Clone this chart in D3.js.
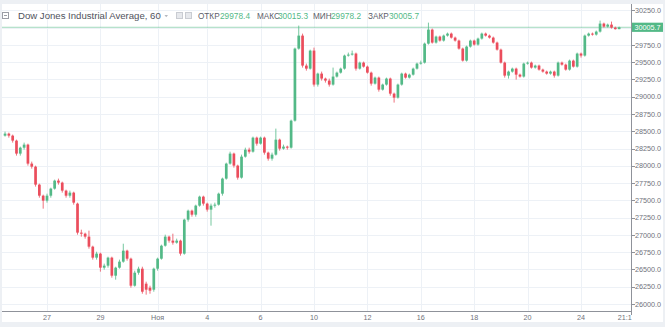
<!DOCTYPE html>
<html><head><meta charset="utf-8">
<script src="https://cdn.jsdelivr.net/npm/d3@7"></script>
<style>html,body{margin:0;padding:0;background:#edf0f4;overflow:hidden}svg{display:block}</style>
</head><body><svg id="c" width="665" height="327"></svg>
<script>
const title = "Dow Jones Industrial Average, 60";
const legendLabels = ["ОТКР", "МАКС", "МИН", "ЗАКР"];
const legendValues = ["29978.4", "30015.3", "29978.2", "30005.7"];
const lastPrice = 30005.7;

const opens = [
28437,28466,28437,28365,28177,28263,28307,28032,27988,27728,
27568,27496,27568,27670,27786,27757,27641,27568,27612,27453,
27033,27018,26975,26830,26671,26729,26526,26555,26671,26410,
26526,26613,26772,26656,26265,26453,26511,26294,26236,26207,
26511,26656,26844,26975,26917,26888,26917,26729,27221,27351,
27293,27424,27554,27453,27366,27424,27438,27597,27815,28032,
28177,28003,27829,28133,28234,28205,28408,28321,28408,28191,
28104,28162,28379,28249,28278,28263,28654,29697,29885,29451,
29407,29668,29176,29335,29263,29234,29176,29292,29349,29407,
29596,29610,29625,29407,29494,29436,29349,29190,29277,29103,
29176,29263,29045,28987,29176,29335,29277,29320,29407,29480,
29494,29769,29972,29784,29871,29813,29885,29914,29856,29813,
29697,29523,29726,29813,29755,29842,29914,29885,29856,29784,
29682,29494,29306,29364,29407,29320,29292,29480,29494,29422,
29451,29393,29364,29335,29364,29306,29494,29465,29393,29523,
29436,29625,29596,29885,29914,29900,29943,30059,30015,30044,
30001,29978.4];
const highs = [
28495,28481,28452,28379,28278,28336,28321,28061,28003,27742,
27583,27597,27684,27800,27815,27771,27655,27641,27626,27467,
27076,27033,27062,26844,26757,26743,26584,26685,26685,26540,
26642,26873,26786,26671,26482,26540,26540,26323,26265,26526,
26671,26859,27004,26989,27018,26946,26931,27235,27366,27366,
27438,27568,27568,27467,27453,27467,27612,27829,28046,28205,
28191,28017,28162,28263,28263,28423,28423,28423,28423,28205,
28191,28539,28394,28307,28292,28669,29711,30030,29914,29480,
29682,29711,29349,29364,29277,29263,29422,29364,29422,29610,
29639,29668,29639,29509,29509,29451,29364,29292,29292,29190,
29277,29277,29060,29190,29349,29349,29335,29422,29494,29523,
29784,30073,29987,29885,29885,29900,29929,29929,29871,29827,
29711,29740,29827,29827,29856,29929,29929,29900,29871,29798,
29697,29509,29378,29422,29422,29335,29494,29509,29509,29465,
29465,29407,29378,29378,29378,29509,29509,29480,29538,29538,
29639,29639,29900,29929,29929,29958,30102,30073,30059,30088,
30015,30015.3];
const lows = [
28423,28408,28336,28148,28148,28234,28003,27959,27699,27539,
27380,27467,27539,27655,27728,27612,27539,27539,27438,27004,
26975,26946,26801,26642,26642,26468,26497,26526,26381,26352,
26511,26598,26627,26236,26251,26424,26149,26135,26149,26178,
26482,26642,26830,26888,26859,26873,26700,26714,27192,27264,
27264,27409,27424,27337,27134,27395,27424,27568,27800,28017,
27974,27800,27815,28119,28177,28191,28292,28307,28162,28075,
28075,28148,28220,28234,28234,28249,28640,29682,29422,29378,
29393,29147,29147,29234,29205,29147,29161,29277,29335,29393,
29581,29596,29378,29393,29422,29335,29161,29176,29074,29089,
29161,29016,28915,28973,29161,29263,29263,29306,29393,29465,
29480,29755,29769,29769,29798,29798,29871,29842,29798,29682,
29509,29509,29711,29740,29740,29827,29871,29842,29769,29668,
29480,29277,29263,29349,29248,29277,29277,29465,29407,29407,
29378,29349,29320,29320,29277,29292,29451,29378,29378,29422,
29422,29567,29581,29871,29885,29885,29929,30001,30001,29987,
29972,29978.2];
const closes = [
28466,28437,28365,28177,28263,28307,28032,27988,27728,27568,
27496,27568,27670,27786,27757,27641,27568,27612,27467,27033,
27018,26975,26830,26671,26729,26526,26555,26671,26410,26526,
26613,26772,26656,26265,26453,26511,26178,26207,26193,26511,
26656,26844,26975,26917,26888,26917,26729,27221,27351,27293,
27424,27554,27453,27366,27424,27438,27597,27815,28032,28177,
28003,27829,28133,28234,28205,28408,28321,28408,28191,28104,
28162,28379,28249,28278,28263,28654,29697,29885,29451,29407,
29668,29176,29335,29263,29234,29176,29292,29349,29407,29596,
29610,29625,29407,29494,29436,29349,29190,29277,29103,29176,
29263,29045,28987,29176,29335,29277,29320,29407,29480,29494,
29769,29972,29784,29871,29813,29885,29914,29856,29813,29697,
29523,29726,29813,29755,29842,29914,29885,29856,29784,29682,
29494,29306,29364,29407,29320,29292,29480,29494,29422,29451,
29393,29364,29335,29364,29306,29494,29465,29393,29523,29436,
29625,29596,29885,29914,29900,29943,30059,30015,30044,30001,
29978.4,30005.7];

const xTickLabels = ["27", "29", "Ноя", "4", "6", "10", "12", "16", "18", "20", "24"];
const xTickBars   = [11, 25, 40, 53, 67, 81, 95, 109, 123, 137, 151];
const xEdgeLabel = "21:1";
const xEdgeBar = 162.5;
const yTickValues = [26000,26250,26500,26750,27000,27250,27500,27750,28000,28250,28500,28750,29000,29250,29500,29750,30000,30250];

const UP = "#53b987", DOWN = "#eb4d5c";
const svg = d3.select("#c");
const L = 2, R = 631, T = 4, B = 311;

svg.append("rect").attr("x", 0).attr("y", 0).attr("width", 665).attr("height", 327).attr("fill", "#edf0f4");
svg.append("rect").attr("x", 2).attr("y", 4).attr("width", 661).attr("height", 318).attr("fill", "#ffffff");

const x = d3.scaleLinear().domain([11, 151]).range([47, 581]);
const y = d3.scaleLinear().domain([26000, 30250]).range([304, 10.4]);

// grid
const grid = svg.append("g").attr("stroke", "#edf1f6").attr("stroke-width", 1);
yTickValues.forEach(v => {
  const yy = Math.round(y(v)) + 0.5;
  grid.append("line").attr("x1", L).attr("x2", R).attr("y1", yy).attr("y2", yy);
});
xTickBars.forEach(b => {
  const xx = Math.round(x(b)) + 0.5;
  grid.append("line").attr("x1", xx).attr("x2", xx).attr("y1", T).attr("y2", B);
});

svg.append("clipPath").attr("id", "plot").append("rect").attr("x", L).attr("y", T).attr("width", R - L).attr("height", B - T);

// price line
const py = y(lastPrice);
svg.append("line").attr("x1", L).attr("x2", R).attr("y1", py).attr("y2", py)
  .attr("stroke", UP).attr("stroke-opacity", 0.55).attr("stroke-width", 1);

// candles
const data = closes.map((c, k) => ({k, o: opens[k], h: highs[k], l: lows[k], c}));
const cg = svg.append("g").attr("clip-path", "url(#plot)");
const bw = 2.7;
cg.selectAll("line.w").data(data).join("line").attr("class", "w")
  .attr("x1", d => x(d.k)).attr("x2", d => x(d.k))
  .attr("y1", d => y(d.h)).attr("y2", d => y(d.l))
  .attr("stroke", d => d.c >= d.o ? UP : DOWN).attr("stroke-width", 0.8);
cg.selectAll("rect.b").data(data).join("rect").attr("class", "b")
  .attr("x", d => x(d.k) - bw / 2).attr("width", bw)
  .attr("y", d => y(Math.max(d.o, d.c)))
  .attr("height", d => Math.max(1, Math.abs(y(d.o) - y(d.c))))
  .attr("fill", d => d.c >= d.o ? UP : DOWN);

// axes
const axisCol = "#8f929a";
svg.append("line").attr("x1", R + 0.5).attr("x2", R + 0.5).attr("y1", T).attr("y2", 315).attr("stroke", axisCol);
svg.append("line").attr("x1", L).attr("x2", R + 1).attr("y1", B + 0.5).attr("y2", B + 0.5).attr("stroke", axisCol);

const labCol = "#6f727b";
const fmt = d3.format(".1f");
yTickValues.forEach(v => {
  const yy = y(v);
  if (Math.abs(yy - py) < 8) return;
  svg.append("line").attr("x1", R + 1).attr("x2", R + 4).attr("y1", Math.round(yy) + 0.5).attr("y2", Math.round(yy) + 0.5).attr("stroke", axisCol);
  svg.append("text").attr("x", 635).attr("y", yy + 2.6).attr("font-family", "Liberation Sans, Arial, sans-serif")
    .attr("font-size", 7.2).attr("fill", labCol).text(fmt(v));
});
// price label
svg.append("rect").attr("x", R + 1).attr("y", py - 4.6).attr("width", 31).attr("height", 9.2).attr("fill", UP);
svg.append("text").attr("x", 634.5).attr("y", py + 2.6).attr("font-family", "Liberation Sans, Arial, sans-serif")
  .attr("font-size", 7.2).attr("fill", "#ffffff").text(fmt(lastPrice));

xTickBars.forEach((b, i) => {
  svg.append("text").attr("x", x(b)).attr("y", 320).attr("text-anchor", "middle")
    .attr("font-family", "Liberation Sans, Arial, sans-serif").attr("font-size", 7.2).attr("fill", labCol).text(xTickLabels[i]);
});
svg.append("text").attr("x", x(xEdgeBar)).attr("y", 320).attr("text-anchor", "middle")
  .attr("font-family", "Liberation Sans, Arial, sans-serif").attr("font-size", 7.2).attr("fill", labCol).text(xEdgeLabel);

// header
const hg = svg.append("g");
hg.append("rect").attr("x", 2.5).attr("y", 12.5).attr("width", 6).attr("height", 6).attr("fill", "none").attr("stroke", "#9a9da5");
hg.append("line").attr("x1", 4).attr("x2", 7).attr("y1", 15.5).attr("y2", 15.5).attr("stroke", "#9a9da5");
hg.append("text").attr("x", 18).attr("y", 19).attr("font-family", "Liberation Sans, Arial, sans-serif")
  .attr("font-size", 9.6).attr("fill", "#4f525c").text(title);
hg.append("path").attr("d", "M164.5,15 L168,15 L166.25,17.2 Z").attr("fill", "#b5b8bf");
hg.append("rect").attr("x", 176.5).attr("y", 12.5).attr("width", 6).attr("height", 6).attr("fill", "#e6e8ec").attr("stroke", "#c9ccd2");
hg.append("rect").attr("x", 185.5).attr("y", 12.5).attr("width", 6).attr("height", 6).attr("fill", "#e6e8ec").attr("stroke", "#c9ccd2");
const labX = [198, 257, 313, 368], valX = [220, 278, 331, 389];
legendLabels.forEach((t, i) => {
  hg.append("text").attr("x", labX[i]).attr("y", 18.5).attr("font-family", "Liberation Sans, Arial, sans-serif")
    .attr("font-size", 8.2).attr("fill", "#5d606b").text(t);
  hg.append("text").attr("x", valX[i]).attr("y", 18.5).attr("font-family", "Liberation Sans, Arial, sans-serif")
    .attr("font-size", 8.3).attr("fill", UP).text(legendValues[i]);
});
</script></body></html>
